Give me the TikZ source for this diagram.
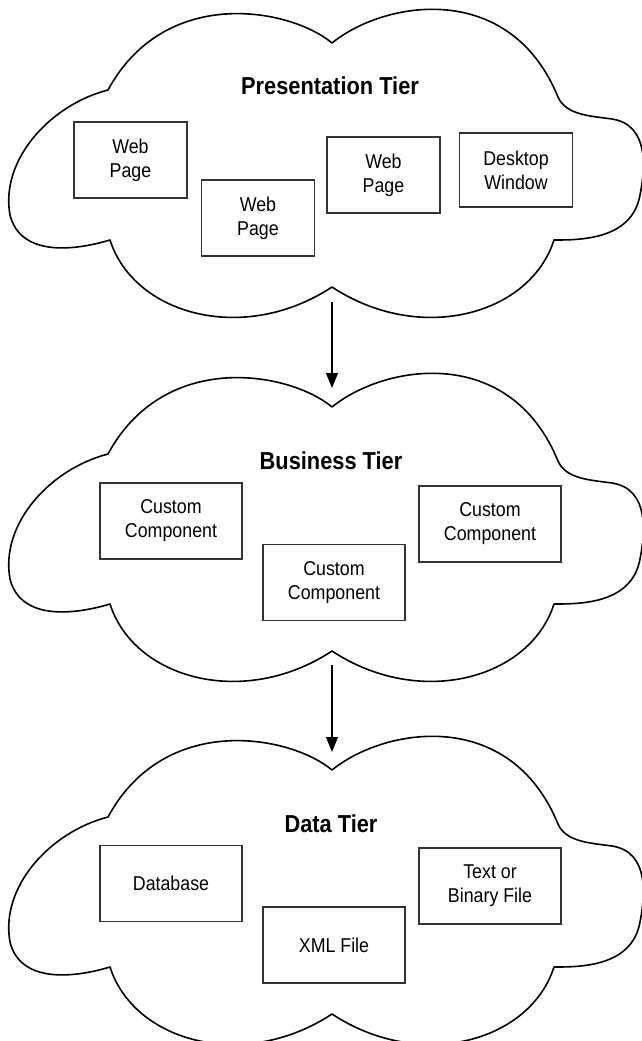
\documentclass[tikz,border=0pt]{standalone}
\usepackage{fontspec}
\setmainfont{Liberation Sans}[FakeStretch=0.89]
\usetikzlibrary{arrows.meta}
\tikzset{
  cloudline/.style={draw=black, line width=1.6pt, line join=round},
  tierbox/.style={draw=black!80, line width=1.1pt, fill=white, minimum height=76pt, align=center, inner sep=0pt, font=\fontsize{20}{24}\selectfont},
  smallbox/.style={tierbox, minimum width=113pt},
  widebox/.style={tierbox, minimum width=142pt},
  tiertitle/.style={font=\bfseries\fontsize{24.5}{28}\selectfont, anchor=base, inner sep=0pt},
  flow/.style={line width=1.4pt, -{Triangle[length=15pt,width=12pt]}},
  pics/tiercloud/.style={code={
    \draw[cloudline] (332,43) .. controls (385,0) and (510,-20) .. (558,97)
      .. controls (566,115) and (590,116) .. (612,119)
      .. controls (650,125) and (645,170) .. (640,195)
      .. controls (632,240) and (580,240) .. (554,240)
      .. controls (530,315) and (420,345) .. (332,287)
      .. controls (244,345) and (134,315) .. (110,240)
      .. controls (70,252) and (20,255) .. (10,215)
      .. controls (0,160) and (50,105) .. (108,90)
      .. controls (165,-15) and (290,8) .. (332,43) -- cycle;
  }}
}
\begin{document}
\begin{tikzpicture}[x=1pt,y=-1pt]
\useasboundingbox (0,0) rectangle (641,1041);

% clouds
\pic at (0,0) {tiercloud};
\pic at (0,364) {tiercloud};
\pic at (0,727) {tiercloud};

% presentation tier
\node[tiertitle] (pt) at (330,95) {Presentation Tier};
\node[smallbox] (wp1) at (130.5,160) {Web\\Page};
\node[smallbox] (wp2) at (258,218) {Web\\Page};
\node[smallbox] (wp3) at (383.5,175) {Web\\Page};
\node[smallbox, minimum height=74pt] (dw) at (516,170) {Desktop\\Window};

% business tier
\node[tiertitle] (bt) at (331,469) {Business Tier};
\node[widebox] (cc1) at (171,521) {Custom\\Component};
\node[widebox] (cc2) at (334,582.5) {Custom\\Component};
\node[widebox] (cc3) at (490,524) {Custom\\Component};

% data tier
\node[tiertitle] (dt) at (331,832) {Data Tier};
\node[widebox] (db) at (171,883.5) {Database};
\node[widebox] (xf) at (334,945) {XML File};
\node[widebox] (tf) at (490,886) {Text or\\Binary File};

% arrows
\coordinate (a1s) at (332,302);
\coordinate (a1e) at (332,388);
\coordinate (a2s) at (332,665);
\coordinate (a2e) at (332,752);
\draw[flow] (a1s) -- (a1e);
\draw[flow] (a2s) -- (a2e);
\end{tikzpicture}
\end{document}
